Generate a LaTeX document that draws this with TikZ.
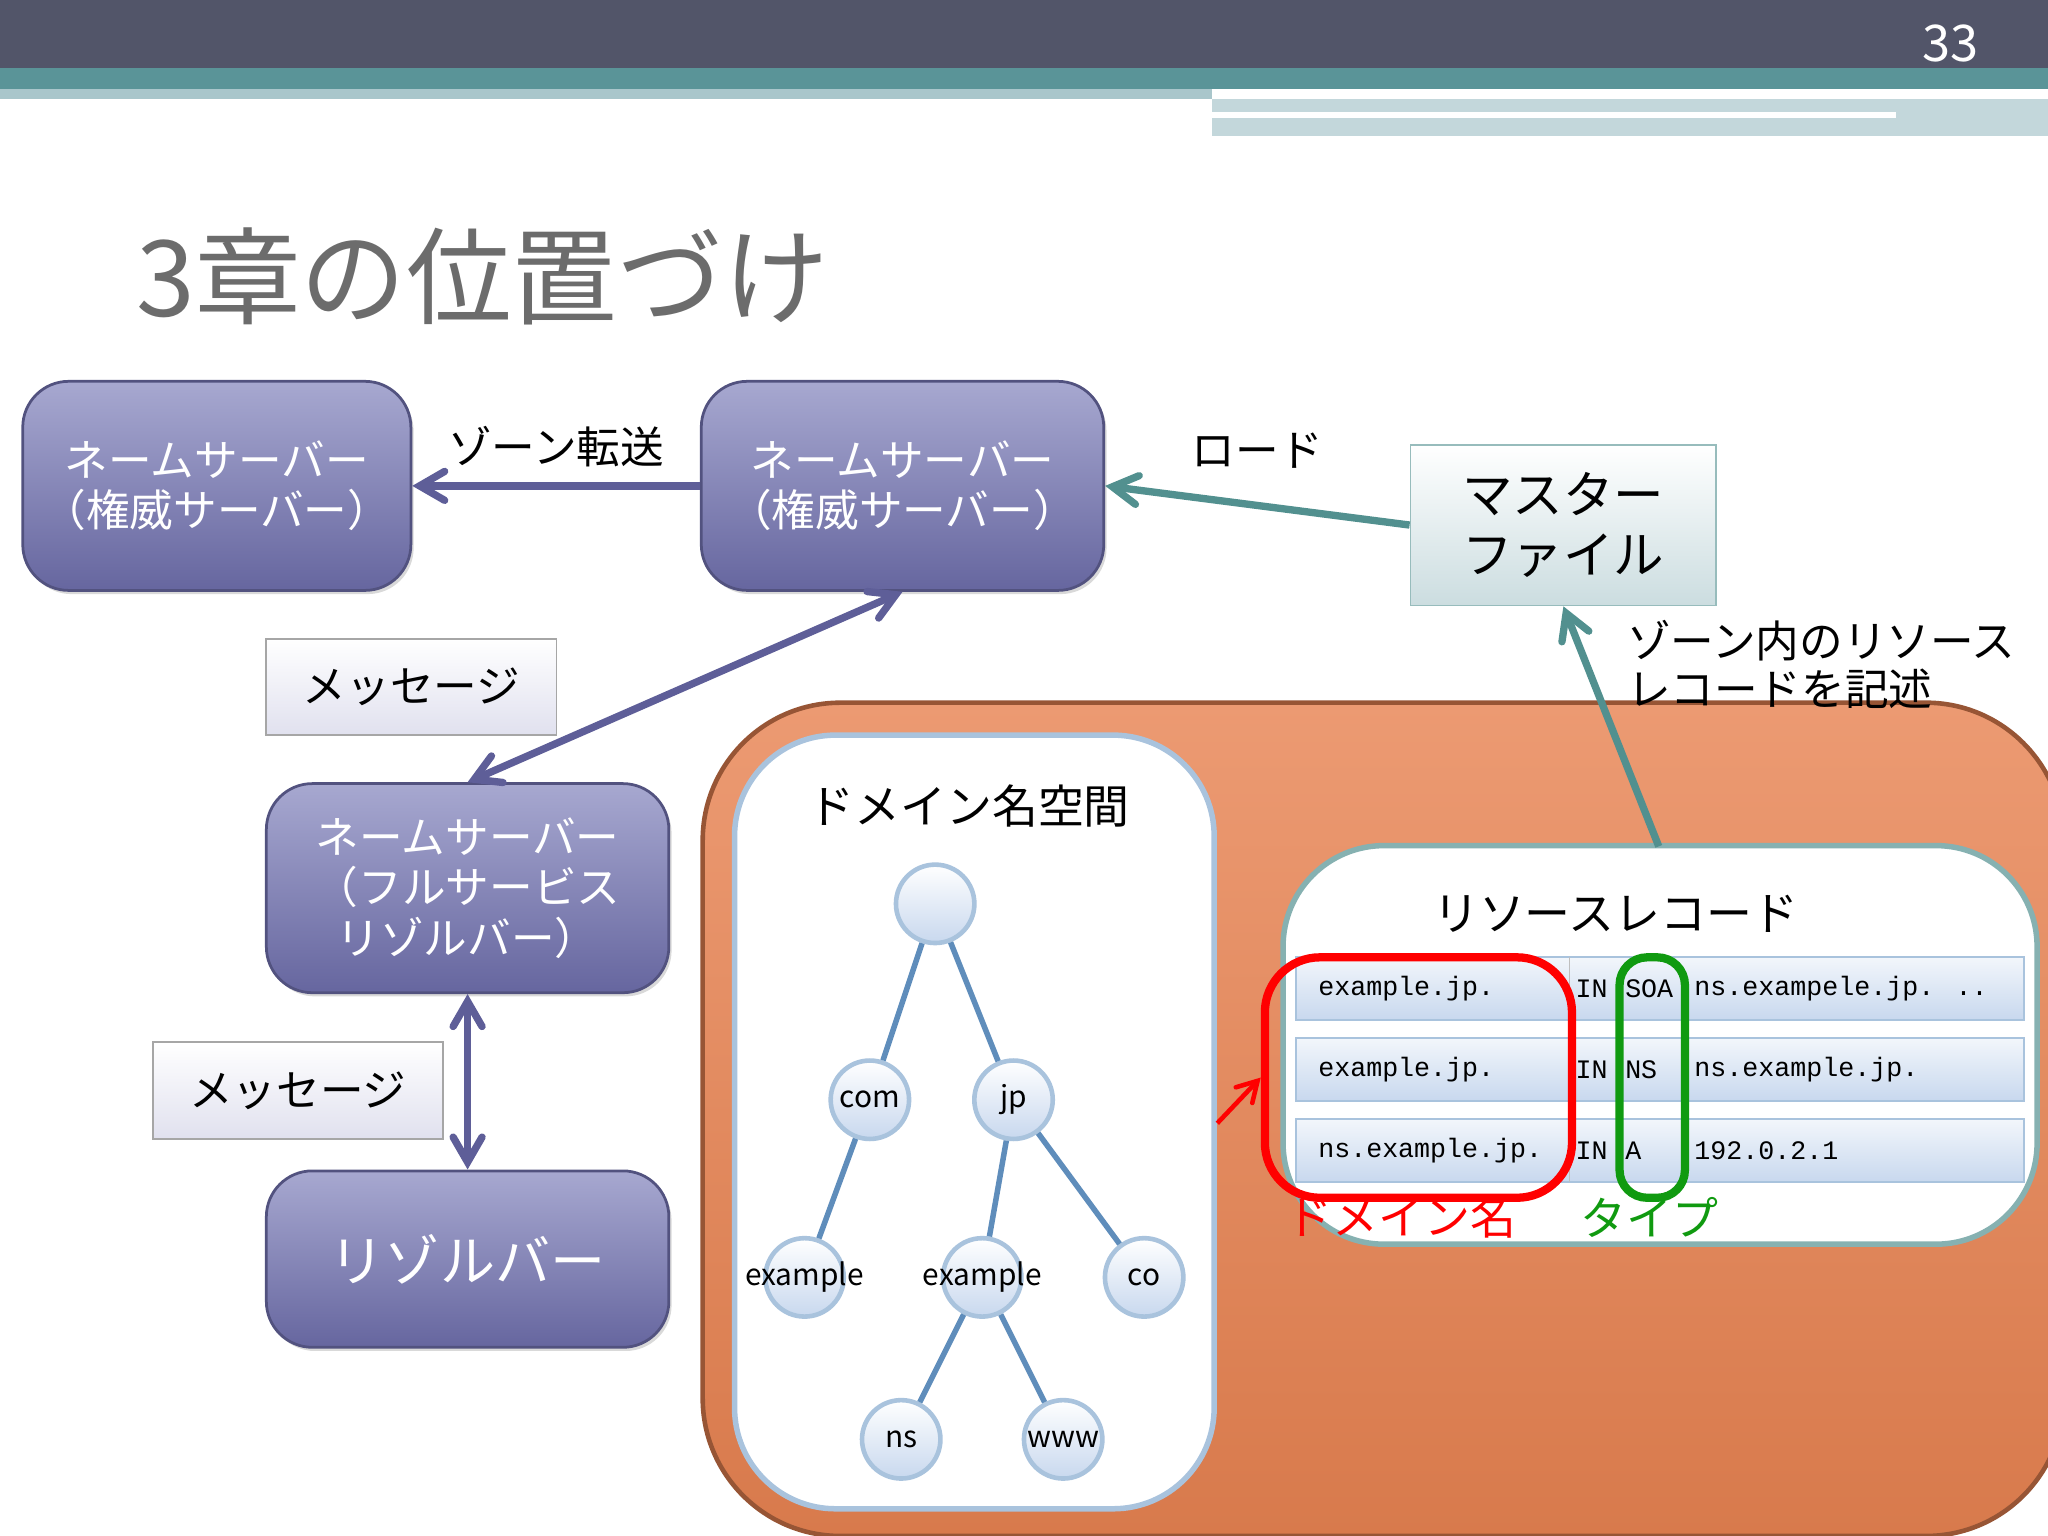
\documentclass[tikz,border=0pt]{standalone}
\usepackage{fontspec}
\setmainfont{Noto Sans CJK JP}
\newfontfamily\mono{Liberation Mono}
\usetikzlibrary{arrows,positioning,calc,shadows,fit}
\definecolor{barDark}{HTML}{525569}
\definecolor{barTeal}{HTML}{5A9498}
\definecolor{barLight}{HTML}{A9C6CB}
\definecolor{purTop}{HTML}{A7A8D0}
\definecolor{purBot}{HTML}{66669F}
\definecolor{arrPur}{HTML}{5E5E98}
\definecolor{arrTeal}{HTML}{52908F}
\definecolor{oraTop}{HTML}{EC9A72}
\definecolor{oraBot}{HTML}{D87A4C}
\definecolor{treeLine}{HTML}{5F8DBB}
\definecolor{cirEdge}{HTML}{A9C3DD}
\definecolor{rowTop}{HTML}{F2F6FB}
\definecolor{rowBot}{HTML}{C8D8EE}
\definecolor{recGreen}{HTML}{109A10}
\tikzset{
  ns/.style={draw=purBot!80!black, rounded corners=10pt, top color=purTop, bottom color=purBot,
    text=white, font=\fontsize{9.5}{11}\selectfont, align=center,
    drop shadow={shadow xshift=0.6pt, shadow yshift=-0.8pt, opacity=0.3}, line width=0.6pt},
  msg/.style={draw=gray!70, top color=white, bottom color=purTop!35, font=\fontsize{9.5}{12}\selectfont,
    minimum width=2.22cm, minimum height=0.74cm},
  tn/.style={circle, draw=cirEdge, line width=1pt, top color=white, bottom color=rowBot,
    minimum size=0.6cm, inner sep=0pt},
  tl/.style={font=\fontsize{6.5}{7}\selectfont, inner sep=0pt},
  row/.style={draw=cirEdge, top color=rowTop, bottom color=rowBot, minimum width=5.57cm, minimum height=0.48cm},
  rec/.style={font=\mono\fontsize{5.8}{7}\selectfont, anchor=west, inner sep=0pt},
}
\begin{document}
\begin{tikzpicture}[x=0.01cm,y=-0.01cm]
\useasboundingbox (0,0) rectangle (1568,1176);
% header bars
\fill[barDark] (0,0) rectangle (1568,52);
\fill[barTeal] (0,52) rectangle (1568,68);
\fill[barLight] (0,68) rectangle (928,76);
\fill[barLight!70] (928,76) rectangle (1568,104);
\fill[white] (928,86) rectangle (1452,90);
\node[text=white, font=\fontsize{11}{12}\selectfont] (pg) at (1493,33) {33};
\node[text=gray!85!black, font=\fontsize{23}{28}\selectfont, anchor=west] (title) at (92,212) {3章の位置づけ};

% servers
\node[ns, minimum width=2.97cm, minimum height=1.6cm] (A) at (166,372) {ネームサーバー\\（権威サーバー）};
\node[ns, minimum width=3.08cm, minimum height=1.6cm] (B) at (691,372) {ネームサーバー\\（権威サーバー）};
\node[ns, minimum width=3.08cm, minimum height=1.6cm] (C) at (358,680) {ネームサーバー\\（フルサービス\\リゾルバー）};
\node[ns, minimum width=3.08cm, minimum height=1.35cm, font=\fontsize{12}{14}\selectfont] (D) at (358,964) {リゾルバー};
\node[draw=arrTeal!60, top color=white, bottom color=barLight!60, minimum width=2.34cm, minimum height=1.23cm,
  align=center, font=\fontsize{11}{13}\selectfont] (M) at (1197,402) {マスター\\ファイル};
\node[msg] (m1) at (315,526) {メッセージ};
\node[msg] (m2) at (228,835) {メッセージ};

% orange area
\path[draw=oraBot!70!black, line width=1pt, rounded corners=30pt, top color=oraTop, bottom color=oraBot]
  (538,1176) rectangle (1580,538);
\node[draw=cirEdge, fill=white, rounded corners=22pt, line width=1.2pt, minimum width=3.67cm, minimum height=5.92cm] (dom) at (746,859) {};
\node[font=\fontsize{10}{12}\selectfont] (domT) at (742,617) {ドメイン名空間};
\node[draw=arrTeal!70, fill=white, rounded corners=22pt, line width=1.2pt, minimum width=5.77cm, minimum height=3.05cm] (rr) at (1271,800) {};
\node[font=\fontsize{10}{12}\selectfont] (rrT) at (1237,700) {リソースレコード};

% tree
\node[tn] (r) at (716,692) {};
\node[tn] (com) at (666,842) {};
\node[tn] (jp) at (776,842) {};
\node[tn] (ex1) at (616,978) {};
\node[tn] (ex2) at (752,978) {};
\node[tn] (co) at (876,978) {};
\node[tn] (nsn) at (690,1102) {};
\node[tn] (www) at (814,1102) {};
\foreach \a/\b in {r/com, r/jp, com/ex1, jp/ex2, jp/co, ex2/nsn, ex2/www}
  \draw[treeLine, line width=1.2pt] (\a) -- (\b);
\foreach \n/\t in {com/com, jp/jp, ex1/example, ex2/example, co/co, nsn/ns, www/www}
  \node[tl] at (\n) {\t};

% records
\node[row] (r1) at (1271,757) {};
\node[row] (r2) at (1271,819) {};
\node[row] (r3) at (1271,881) {};
\foreach \n/\d/\t/\v in {r1/{example.jp.}/SOA/{ns.exampele.jp. ..}, r2/{example.jp.}/NS/{ns.example.jp.}, r3/{ns.example.jp.}/A/{192.0.2.1}} {
  \node[rec] at ($(\n.west)+(17,0)$) {\d};
  \node[rec] at ($(\n.west)+(214,0)$) {IN};
  \node[rec] at ($(\n.west)+(252,0)$) {\t};
  \node[rec] at ($(\n.west)+(305,0)$) {\v};
  \draw[gray!50] ($(\n.west)+(210,-24)$) -- ($(\n.west)+(210,24)$);
}
\node[draw=red, line width=1.8pt, rounded corners=12pt, minimum width=2.35cm, minimum height=1.84cm] (dn) at (1086,825) {};
\node[draw=recGreen, line width=1.8pt, rounded corners=6pt, minimum width=0.5cm, minimum height=1.84cm] (ty) at (1265,825) {};
\node[text=red, font=\fontsize{10}{12}\selectfont] (dnL) at (1073,932) {ドメイン名};
\node[text=recGreen, font=\fontsize{10}{12}\selectfont] (tyL) at (1263,932) {タイプ};
\coordinate (dnTail) at (932,860);
\draw[->, >=angle 60, red, line width=1pt] (dnTail) -- (dn.west);

% connectors
\path[->, >=angle 60, arrPur, line width=1.6pt] (B.west) edge node[above, text=black, font=\fontsize{9.5}{12}\selectfont] {ゾーン転送} (A.east);
\path[->, >=angle 60, arrTeal, line width=1.6pt] (M.west) edge node[above=4pt, text=black, font=\fontsize{9.5}{12}\selectfont] {ロード} (B.east);
\draw[<->, >=angle 60, arrPur, line width=1.6pt] (C.north) -- (B.south);
\draw[<->, >=angle 60, arrPur, line width=1.6pt] (C.south) -- (D.north);
\coordinate (rrTop) at (1270,648);
\draw[->, >=angle 60, arrTeal, line width=1.6pt] (rrTop) -- (M.south);
\node[align=left, anchor=north west, font=\fontsize{9.5}{10.5}\selectfont, inner sep=0pt] (rrL) at (1245,474) {ゾーン内のリソース\\レコードを記述};
\end{tikzpicture}
\end{document}
